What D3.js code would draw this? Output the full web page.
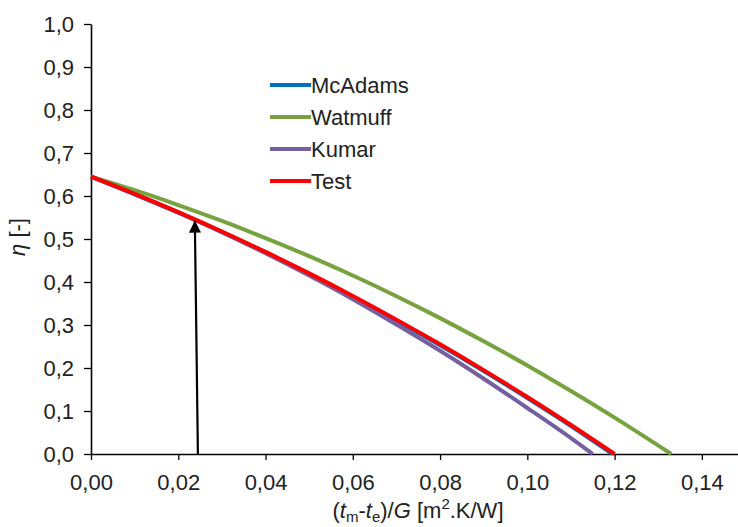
<!DOCTYPE html>
<html><head><meta charset="utf-8">
<script src="https://cdn.jsdelivr.net/npm/d3@7"></script>
<style>body{margin:0;background:#fff}svg{display:block}text{font-family:"Liberation Sans",Arial,sans-serif}</style>
</head><body>
<svg id="c" width="738" height="527"></svg>
<script>
const xMcAdams = [0,0.01,0.02,0.03,0.04,0.05,0.06,0.07,0.08,0.09,0.10,0.11,0.1195];
const yMcAdams = [0.645,0.604,0.561,0.516,0.468,0.418,0.365,0.310,0.253,0.193,0.130,0.065,0.0];
const xWatmuff = [0,0.01,0.02,0.03,0.04,0.05,0.06,0.07,0.08,0.09,0.10,0.11,0.12,0.133];
const yWatmuff = [0.645,0.6135,0.579,0.542,0.502,0.460,0.415,0.367,0.316,0.262,0.206,0.1465,0.0846,0.0];
const xKumar = [0,0.01,0.02,0.03,0.04,0.05,0.06,0.07,0.08,0.09,0.10,0.11,0.115];
const yKumar = [0.645,0.605,0.562,0.516,0.467,0.415,0.360,0.301,0.240,0.175,0.107,0.037,0.0];
const xTest = [0,0.01,0.02,0.03,0.04,0.05,0.06,0.07,0.08,0.09,0.10,0.11,0.12];
const yTest = [0.645,0.605,0.5625,0.5175,0.470,0.420,0.3675,0.3125,0.255,0.195,0.1325,0.0675,0.0];
const seriesNames = ["McAdams","Watmuff","Kumar","Test"];
const seriesColors = ["#0070C0","#77A33E","#7460A0","#FF0000"];
const xTicks = [0,0.02,0.04,0.06,0.08,0.10,0.12,0.14];
const yTicks = [0,0.1,0.2,0.3,0.4,0.5,0.6,0.7,0.8,0.9,1.0];
const arrowX = [0.0245,0.0238];
const arrowY = [0,0.543];

const FS = 22;
const svg = d3.select("#c");
const x = d3.scaleLinear().domain([0,0.15]).range([91,745.5]);
const y = d3.scaleLinear().domain([0,1]).range([454,24]);
const comma = f => v => d3.format(f)(v).replace(".",",");

const gx = svg.append("g").attr("transform","translate(0,454)")
  .call(d3.axisBottom(x).tickValues(xTicks).tickFormat(comma(".2f")).tickSizeInner(6).tickSizeOuter(0).tickPadding(14));
const gy = svg.append("g").attr("transform","translate(91,0)")
  .call(d3.axisLeft(y).tickValues(yTicks).tickFormat(comma(".1f")).tickSizeInner(7).tickSizeOuter(0).tickPadding(10));
[gx,gy].forEach(g=>{
  g.select(".domain").attr("stroke","#000").attr("stroke-width",1.6);
  g.selectAll(".tick line").attr("stroke","#000").attr("stroke-width",1.3);
  g.selectAll(".tick text").attr("font-size",FS).attr("fill","#222").attr("font-family","Liberation Sans, Arial, sans-serif");
});

const data = [[xMcAdams,yMcAdams],[xWatmuff,yWatmuff],[xKumar,yKumar],[xTest,yTest]];
const line = d3.line().x(d=>x(d[0])).y(d=>y(d[1])).curve(d3.curveMonotoneX);
data.forEach((s,i)=>{
  const pts = s[0].map((v,j)=>[v,s[1][j]]);
  svg.append("path").attr("d",line(pts)).attr("fill","none")
    .attr("stroke",seriesColors[i]).attr("stroke-width",4).attr("stroke-linejoin","round");
});

// arrow
svg.append("defs").append("marker").attr("id","ah").attr("viewBox","0 0 10 10")
  .attr("refX",10).attr("refY",5).attr("markerWidth",5.5).attr("markerHeight",5.5)
  .attr("markerUnits","strokeWidth").attr("orient","auto")
  .append("path").attr("d","M0,0L10,5L0,10Z").attr("fill","#000");
svg.append("line").attr("x1",x(arrowX[0])).attr("y1",y(arrowY[0])).attr("x2",x(arrowX[1])).attr("y2",y(arrowY[1]))
  .attr("stroke","#000").attr("stroke-width",2.2).attr("marker-end","url(#ah)");

// legend
const lg = svg.append("g");
seriesNames.forEach((n,i)=>{
  const yy = 85 + i*32;
  lg.append("line").attr("x1",270).attr("x2",311).attr("y1",yy).attr("y2",yy)
    .attr("stroke",seriesColors[i]).attr("stroke-width",4);
  lg.append("text").attr("x",311).attr("y",yy+8).attr("font-size",FS).attr("fill","#222").text(n);
});

// axis titles
const yt = svg.append("text").attr("transform","translate(25,237) rotate(-90)")
  .attr("text-anchor","middle").attr("font-size",FS).attr("fill","#222");
yt.append("tspan").attr("font-style","italic").text("η");
yt.append("tspan").text(" [-]");

const xt = svg.append("text").attr("x",418).attr("y",518).attr("text-anchor","middle").attr("font-size",FS).attr("fill","#222");
xt.append("tspan").text("(");
xt.append("tspan").attr("font-style","italic").text("t");
xt.append("tspan").attr("font-size",15).attr("dy",4).text("m");
xt.append("tspan").attr("dy",-4).text("-");
xt.append("tspan").attr("font-style","italic").text("t");
xt.append("tspan").attr("font-size",15).attr("dy",4).text("e");
xt.append("tspan").attr("dy",-4).text(")/");
xt.append("tspan").attr("font-style","italic").text("G");
xt.append("tspan").text(" [m");
xt.append("tspan").attr("font-size",15).attr("dy",-9).text("2");
xt.append("tspan").attr("dy",9).text(".K/W]");
</script>
</body></html>
